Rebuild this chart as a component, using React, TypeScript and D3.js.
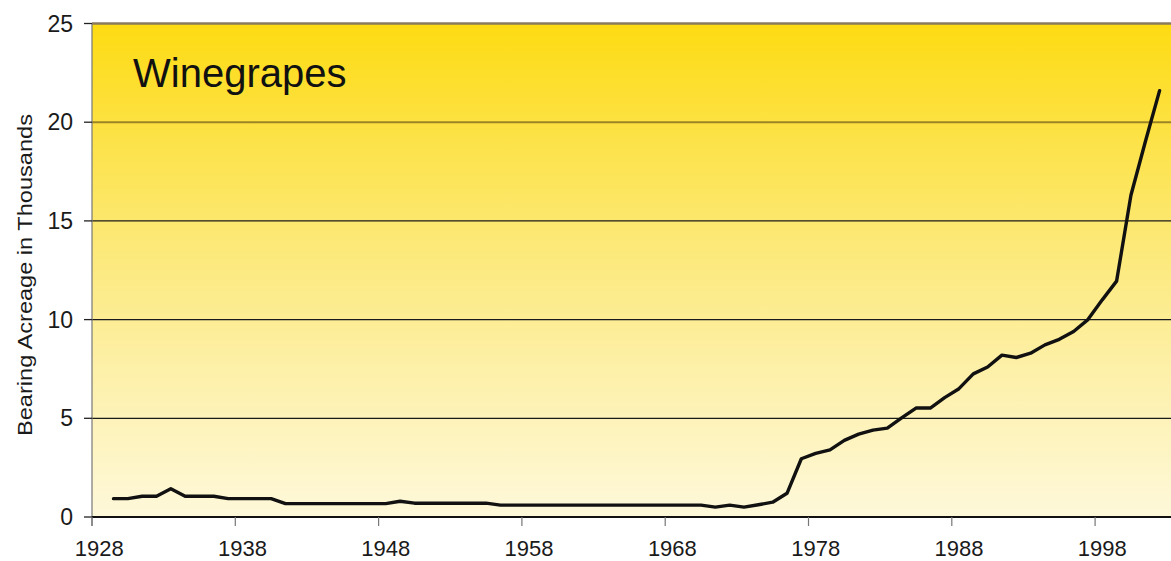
import React from "react";
import * as d3 from "d3";

// Bearing acreage (thousands of acres), one value per year
const years: number[] = d3.range(1929, 2003);
const acreage: number[] = [
  0.93, 0.93, 1.05, 1.05, 1.43, 1.05, 1.05, 1.05, 0.93, 0.93, // 1929-1938
  0.93, 0.93, 0.68, 0.68, 0.68, 0.68, 0.68, 0.68, 0.68, 0.68, // 1939-1948
  0.8, 0.7, 0.7, 0.7, 0.7, 0.7, 0.7, 0.6, 0.6, 0.6,           // 1949-1958
  0.6, 0.6, 0.6, 0.6, 0.6, 0.6, 0.6, 0.6, 0.6, 0.6,           // 1959-1968
  0.6, 0.6, 0.5, 0.6, 0.5, 0.62, 0.75, 1.2, 2.95, 3.22,       // 1969-1978
  3.4, 3.88, 4.2, 4.4, 4.5, 5.02, 5.52, 5.52, 6.05, 6.5,      // 1979-1988
  7.25, 7.6, 8.2, 8.08, 8.3, 8.72, 9.0, 9.4, 10.0, 11.0,      // 1989-1998
  11.95, 16.3, 19.0, 21.6,                                    // 1999-2002
];
const categoryYears: number[] = d3.range(1928, 2004);
const xTickYears: number[] = [1928, 1938, 1948, 1958, 1968, 1978, 1988, 1998];
const yTicks: number[] = [0, 5, 10, 15, 20, 25];
const chartTitle = "Winegrapes";
const yAxisTitle = "Bearing Acreage in Thousands";

const W = 1171;
const H = 561;
const left = 92;
const top = 23.5;
const bottom = 517;
const step = 14.33;

export default function App() {
  const x = d3
    .scaleBand<number>()
    .domain(categoryYears)
    .range([left, left + categoryYears.length * step])
    .paddingInner(0)
    .paddingOuter(0);
  const y = d3.scaleLinear().domain([0, 25]).range([bottom, top]);
  const bw = x.bandwidth();

  const line = d3
    .line<number>()
    .x((_, i) => (x(years[i]) as number) + bw / 2)
    .y((d) => y(d));

  const font = "'Liberation Sans', Arial, sans-serif";

  return (
    <svg
      width={W}
      height={H}
      style={{ position: "absolute", left: 0, top: 0, background: "#fff" }}
      fontFamily={font}
    >
      <defs>
        <linearGradient id="bg" x1="0" y1="0" x2="0" y2="1">
          <stop offset="0" stopColor="#FDDB12" />
          <stop offset="0.2" stopColor="#FDE140" />
          <stop offset="0.45" stopColor="#FCE978" />
          <stop offset="0.7" stopColor="#FDF0A8" />
          <stop offset="1" stopColor="#FEF8DA" />
        </linearGradient>
      </defs>

      <rect x={left} y={top} width={W - left} height={bottom - top} fill="url(#bg)" />

      {/* horizontal gridlines */}
      {yTicks
        .filter((t) => t > 0)
        .map((t) => (
          <line
            key={t}
            x1={left}
            x2={W}
            y1={y(t)}
            y2={y(t)}
            stroke={t === 25 ? "#8a7a5c" : t === 20 ? "#9c8426" : "#1a1a1a"}
            strokeWidth={t === 25 ? 2.5 : t === 20 ? 2 : 1.3}
          />
        ))}

      {/* y axis */}
      <line x1={left} x2={left} y1={top} y2={bottom + 9} stroke="#777" strokeWidth={1.2} />
      {yTicks.map((t) => (
        <g key={t}>
          <line x1={left - 8} x2={left} y1={y(t)} y2={y(t)} stroke="#222" strokeWidth={1.3} />
          <text
            x={73}
            y={y(t)}
            textAnchor="end"
            dominantBaseline="central"
            fontSize={23}
            fill="#1a1a1a"
          >
            {t}
          </text>
        </g>
      ))}

      {/* x axis */}
      <line x1={left} x2={W} y1={bottom} y2={bottom} stroke="#111" strokeWidth={2.2} />
      {xTickYears.map((yr) => {
        const x0 = x(yr) as number;
        return (
          <g key={yr}>
            <line x1={x0} x2={x0} y1={bottom} y2={bottom + 9} stroke="#777" strokeWidth={1.2} />
            <text x={x0 + bw / 2} y={556} textAnchor="middle" fontSize={22} fill="#1a1a1a">
              {yr}
            </text>
          </g>
        );
      })}

      {/* series */}
      <path
        d={line(acreage) || ""}
        fill="none"
        stroke="#111"
        strokeWidth={3.4}
        strokeLinejoin="round"
        strokeLinecap="round"
      />

      <text x={133} y={87} fontSize={40} fill="#111">
        {chartTitle}
      </text>

      <text
        transform={`translate(32, 275) rotate(-90)`}
        textAnchor="middle"
        fontSize={20}
        textLength={322}
        lengthAdjust="spacingAndGlyphs"
        fill="#1a1a1a"
      >
        {yAxisTitle}
      </text>
    </svg>
  );
}
